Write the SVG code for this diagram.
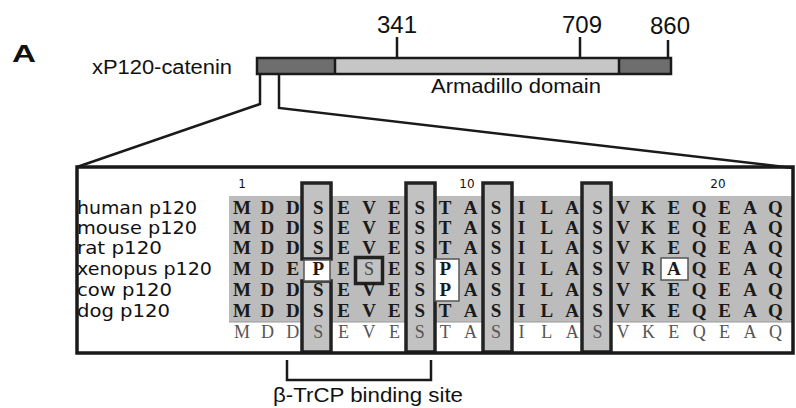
<svg xmlns="http://www.w3.org/2000/svg" width="796" height="408" viewBox="0 0 796 408">
<defs>
<style>
.sans{font-family:"Liberation Sans",Arial,sans-serif;fill:#111}
.goth{font-family:"DejaVu Sans","Liberation Sans",sans-serif;fill:#111}
.seq{font-family:"Liberation Serif","Times New Roman",serif;font-weight:bold;font-size:19px;fill:#1a1a1a;text-anchor:middle}
.cons{font-family:"Liberation Serif","Times New Roman",serif;font-size:18px;fill:#555;text-anchor:middle}
.ln{stroke:#1a1a1a;stroke-width:2.5;fill:none}
.hl{fill:#c2c2c2;stroke:#222;stroke-width:3.5}
.wc{fill:#fff;stroke:#555;stroke-width:1.5}
</style>
</defs>
<rect width="796" height="408" fill="#fff"/>

<g id="panel-label">
<text class="sans" x="12" y="62" font-size="24" font-weight="bold" textLength="24" lengthAdjust="spacingAndGlyphs">A</text>
</g>

<g id="protein">
<text class="sans" x="92" y="74" font-size="19.5" textLength="140" lengthAdjust="spacingAndGlyphs">xP120-catenin</text>
<rect x="257" y="58" width="78" height="16" fill="#6e6e6e"/>
<rect x="335" y="58" width="284" height="16" fill="#c6c6c6"/>
<rect x="619" y="58" width="52" height="16" fill="#6e6e6e"/>
<rect x="257" y="58" width="414" height="16" class="ln"/>
<line x1="335" y1="58" x2="335" y2="74" class="ln"/>
<line x1="619" y1="58" x2="619" y2="74" class="ln"/>
<line x1="397" y1="37" x2="397" y2="58" class="ln"/>
<line x1="580" y1="37" x2="580" y2="58" class="ln"/>
<line x1="668" y1="40" x2="668" y2="58" class="ln"/>
<text class="sans" x="397" y="33" font-size="24" text-anchor="middle">341</text>
<text class="sans" x="582" y="33" font-size="24" text-anchor="middle">709</text>
<text class="sans" x="670" y="34" font-size="24" text-anchor="middle">860</text>
<text class="sans" x="431" y="93" font-size="21" textLength="170" lengthAdjust="spacingAndGlyphs">Armadillo domain</text>
</g>

<g id="connectors">
<polyline points="260,74 260,104 77,167" class="ln"/>
<polyline points="279,74 279,108 793,168" class="ln"/>
<polyline points="287,360 287,380 431,380 431,360" class="ln" stroke-width="3"/>
</g>

<g id="alignment">
<rect x="229" y="196" width="564" height="126" fill="#bcbcbc"/>
<line x1="229" y1="322" x2="793" y2="322" stroke="#999" stroke-width="1"/>
<rect x="302" y="183" width="29" height="76" class="hl"/>
<rect x="302" y="281" width="29" height="71" class="hl"/>
<rect x="304" y="260" width="26" height="21" class="wc"/>
<rect x="406" y="183" width="29" height="169" class="hl"/>
<rect x="483" y="183" width="29" height="169" class="hl"/>
<rect x="582" y="183" width="29" height="169" class="hl"/>
<rect x="355.5" y="257.5" width="27" height="26" class="hl"/>
<rect x="435" y="259" width="24" height="42" class="wc"/>
<rect x="661" y="258" width="27" height="22" class="wc" stroke="#333"/>

<text class="goth" font-size="12" text-anchor="middle" x="242" y="188">1</text>
<text class="goth" font-size="12" text-anchor="middle" x="467" y="188">10</text>
<text class="goth" font-size="12" text-anchor="middle" x="718" y="188">20</text>

<text class="seq" y="214" x="242 267.4 292.8 318.2 343.6 369 394.4 419.8 445.2 470.6 496 521.4 546.8 572.2 597.6 623 648.4 673.8 699.2 724.6 750 775.4">MDDSEVESTASILASVKEQEAQ</text>
<text class="seq" y="234" x="242 267.4 292.8 318.2 343.6 369 394.4 419.8 445.2 470.6 496 521.4 546.8 572.2 597.6 623 648.4 673.8 699.2 724.6 750 775.4">MDDSEVESTASILASVKEQEAQ</text>
<text class="seq" y="254" x="242 267.4 292.8 318.2 343.6 369 394.4 419.8 445.2 470.6 496 521.4 546.8 572.2 597.6 623 648.4 673.8 699.2 724.6 750 775.4">MDDSEVESTASILASVKEQEAQ</text>
<text class="seq" y="275" x="242 267.4 292.8 318.2 343.6">MDEPE</text>
<text class="cons" y="275" x="369" style="fill:#444">S</text>
<text class="seq" y="275" x="394.4 419.8 445.2 470.6 496 521.4 546.8 572.2 597.6 623 648.4 673.8 699.2 724.6 750 775.4">ESPASILASVRAQEAQ</text>
<text class="seq" y="296" x="242 267.4 292.8 318.2 343.6 369 394.4 419.8 445.2 470.6 496 521.4 546.8 572.2 597.6 623 648.4 673.8 699.2 724.6 750 775.4">MDDSEVESPASILASVKEQEAQ</text>
<text class="seq" y="317" x="242 267.4 292.8 318.2 343.6 369 394.4 419.8 445.2 470.6 496 521.4 546.8 572.2 597.6 623 648.4 673.8 699.2 724.6 750 775.4">MDDSEVESTASILASVKEQEAQ</text>
<text class="cons" y="338" x="242 267.4 292.8 318.2 343.6 369 394.4 419.8 445.2 470.6 496 521.4 546.8 572.2 597.6 623 648.4 673.8 699.2 724.6 750 775.4">MDDSEVESTASILASVKEQEAQ</text>

<rect x="77" y="167" width="716" height="186" fill="none" stroke="#1a1a1a" stroke-width="3.5"/>
</g>

<g id="species-labels">
<text class="goth" font-size="17" x="77" y="214" textLength="120" lengthAdjust="spacingAndGlyphs">human p120</text>
<text class="goth" font-size="17" x="77" y="234" textLength="120" lengthAdjust="spacingAndGlyphs">mouse p120</text>
<text class="goth" font-size="17" x="77" y="254" textLength="85" lengthAdjust="spacingAndGlyphs">rat p120</text>
<text class="goth" font-size="17" x="77" y="275" textLength="135" lengthAdjust="spacingAndGlyphs">xenopus p120</text>
<text class="goth" font-size="17" x="77" y="296" textLength="95" lengthAdjust="spacingAndGlyphs">cow p120</text>
<text class="goth" font-size="17" x="77" y="317" textLength="93" lengthAdjust="spacingAndGlyphs">dog p120</text>
</g>

<g id="binding-site-label">
<text class="sans" x="273" y="402" font-size="20" textLength="190" lengthAdjust="spacingAndGlyphs">β-TrCP binding site</text>
</g>
</svg>
